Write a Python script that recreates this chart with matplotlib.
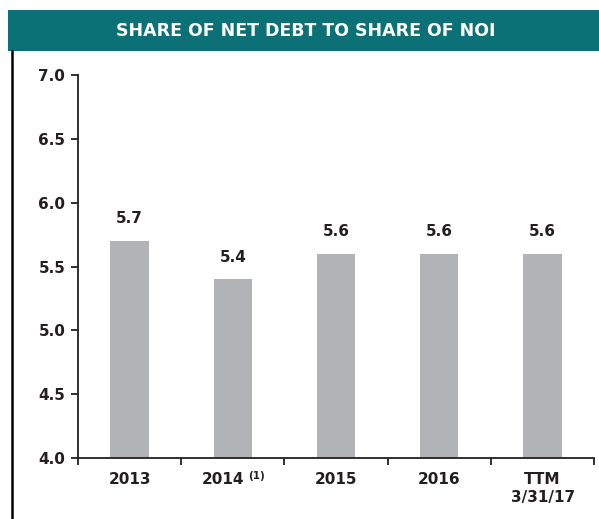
import matplotlib.pyplot as plt
from matplotlib.patches import Rectangle
from matplotlib.lines import Line2D

categories = ["2013", "2014", "2015", "2016", "TTM\n3/31/17"]
footnotes = ["", "(1)", "", "", ""]
values = [5.7, 5.4, 5.6, 5.6, 5.6]
yticks = [4.0, 4.5, 5.0, 5.5, 6.0, 6.5, 7.0]

teal = "#0B7176"
bar_gray = "#B2B3B6"
ink = "#231F20"

fig = plt.figure(figsize=(5.99, 5.19), dpi=100)

# title band
fig.patches.append(Rectangle((0.0134, 0.9017), 1.0, 0.079, transform=fig.transFigure,
                             facecolor=teal, edgecolor="none"))
fig.text(0.51, 0.9412, "SHARE OF NET DEBT TO SHARE OF NOI", color="white",
         fontsize=12.5, fontweight="bold", ha="center", va="center")
# left frame line
fig.lines.append(Line2D([0.0195, 0.0195], [0.0, 0.9017], transform=fig.transFigure,
                        color="black", linewidth=1.8))

ax = fig.add_axes([0.130, 0.1175, 0.862, 0.738])
x = range(len(values))
ax.bar(x, values, width=0.37, color=bar_gray, bottom=0)

for xi, v in zip(x, values):
    ax.annotate(f"{v:.1f}", (xi, v), xytext=(0, 10.5), textcoords="offset points",
                ha="center", va="bottom", fontsize=11, fontweight="bold", color=ink)

ax.set_ylim(4.0, 7.0)
ax.set_xlim(-0.5, len(values) - 0.5)
ax.set_yticks(yticks)
ax.set_yticklabels([f"{t:.1f}" for t in yticks], fontsize=11, fontweight="bold", color=ink)
ax.set_xticks([i - 0.5 for i in range(len(values) + 1)])
ax.set_xticklabels([])

# category labels (with footnote markers where needed)
xt = ax.get_xaxis_transform()
for xi, lab, fn in zip(x, categories, footnotes):
    shift = -7 if fn else 0
    ax.annotate(lab, (xi, 0), xycoords=xt, xytext=(shift, -10), textcoords="offset points",
                ha="center", va="top", fontsize=11, fontweight="bold", color=ink,
                linespacing=1.25, annotation_clip=False)
    if fn:
        ax.annotate(fn, (xi, 0), xycoords=xt, xytext=(17, -9.5), textcoords="offset points",
                    ha="center", va="top", fontsize=7.5, fontweight="bold", color=ink,
                    annotation_clip=False)

ax.tick_params(axis="x", which="major", length=5, width=1.3, color=ink)
ax.tick_params(axis="y", length=5, width=1.3, color=ink, pad=4)

for side in ["top", "right"]:
    ax.spines[side].set_visible(False)
for side in ["left", "bottom"]:
    ax.spines[side].set_linewidth(1.3)
    ax.spines[side].set_color(ink)

fig.savefig("out.png", dpi=100)
